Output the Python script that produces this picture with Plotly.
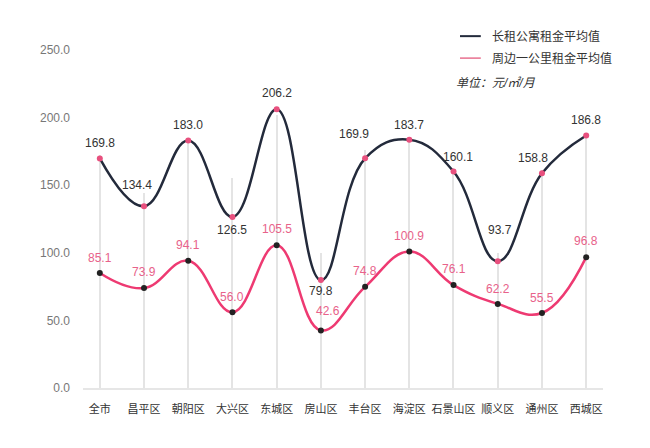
import plotly.graph_objects as go

districts = ["全市", "昌平区", "朝阳区", "大兴区", "东城区", "房山区", "丰台区",
             "海淀区", "石景山区", "顺义区", "通州区", "西城区"]
long_rent = [169.8, 134.4, 183.0, 126.5, 206.2, 79.8, 169.9, 183.7, 160.1, 93.7, 158.8, 186.8]
nearby_rent = [85.1, 73.9, 94.1, 56.0, 105.5, 42.6, 74.8, 100.9, 76.1, 62.2, 55.5, 96.8]
# heights of the light vertical guide lines
guide_tops = [172, 144, 183, 155, 202, 100, 176, 183, 163, 100, 161, 186]
series_names = ["长租公寓租金平均值", "周边一公里租金平均值"]
unit_text = "单位：元/㎡/月"

# label offsets in pixels (styling only)
dark_dy = [15, 21, 16, -13, 16, -11, 24, 15, 15, 31, 15, 15]
dark_dx = [0, -7, 0, 0, 0, 0, -11, 0, 4, 2, -9, 0]
pink_dy = [15, 16, 16, 15, 16, 19, 16, 16, 16, 15, 15, 16]
pink_dx = [0, 0, 0, 0, 0, 7, 0, 0, 0, 0, 0, 0]

dark = "#232a3b"
pink = "#ee3a72"

fig = go.Figure()

fig.add_trace(go.Bar(x=districts, y=guide_tops, width=0.03,
                     marker=dict(color="#e4e4e4", line_width=0),
                     hoverinfo="skip", showlegend=False))

fig.add_trace(go.Scatter(
    x=districts, y=long_rent, mode="lines+markers", name=series_names[0],
    line=dict(color=dark, width=2.5, shape="spline", smoothing=1.2),
    marker=dict(color="#e8507e", size=6)))

fig.add_trace(go.Scatter(
    x=districts, y=nearby_rent, mode="lines+markers", name=series_names[1],
    line=dict(color=pink, width=2.5, shape="spline", smoothing=1.2),
    marker=dict(color="#222222", size=6)))

for vals, dys, dxs, col in [(long_rent, dark_dy, dark_dx, "#333333"),
                            (nearby_rent, pink_dy, pink_dx, "#e8628a")]:
    for d, v, dy, dx in zip(districts, vals, dys, dxs):
        fig.add_annotation(x=d, y=v, text=f"{v:.1f}", showarrow=False,
                           xanchor="center", yanchor="middle", yshift=dy, xshift=dx,
                           font=dict(size=12, color=col))

# hand-made legend in the top right corner
legend_rows = [(1.041, dark, 2), (0.976, "#e8708f", 1.5)]
for (ypos, col, w), name in zip(legend_rows, series_names):
    fig.add_shape(type="line", xref="paper", yref="paper", x0=0.725, x1=0.765,
                  y0=ypos, y1=ypos, line=dict(color=col, width=w))
    fig.add_annotation(text=name, xref="paper", yref="paper", x=0.783, y=ypos,
                       xanchor="left", yanchor="middle", showarrow=False,
                       font=dict(size=12, color="#333333"))
fig.add_annotation(text=f"<i>{unit_text}</i>", xref="paper", yref="paper",
                   x=0.713, y=0.902, xanchor="left", yanchor="middle", showarrow=False,
                   font=dict(size=12, color="#333333"))

fig.update_layout(
    width=650, height=448,
    margin=dict(l=75, r=55, t=42, b=68, autoexpand=False),
    paper_bgcolor="white", plot_bgcolor="white",
    font=dict(family="Liberation Sans, Noto Sans CJK SC, sans-serif", size=12, color="#333333"),
    bargap=0, showlegend=False,
)
fig.update_xaxes(range=[-0.38, 11.38], showgrid=False, showline=True, linecolor="#e6e6e6",
                 linewidth=2, ticks="", ticklabelstandoff=10,
                 tickfont=dict(size=11, color="#333333"))
fig.update_yaxes(range=[0, 250], dtick=50, tickformat=".1f", showgrid=False, zeroline=False,
                 showline=False, ticks="", ticklabelstandoff=12,
                 tickfont=dict(size=12, color="#777777"))

fig.write_html("out.html")
